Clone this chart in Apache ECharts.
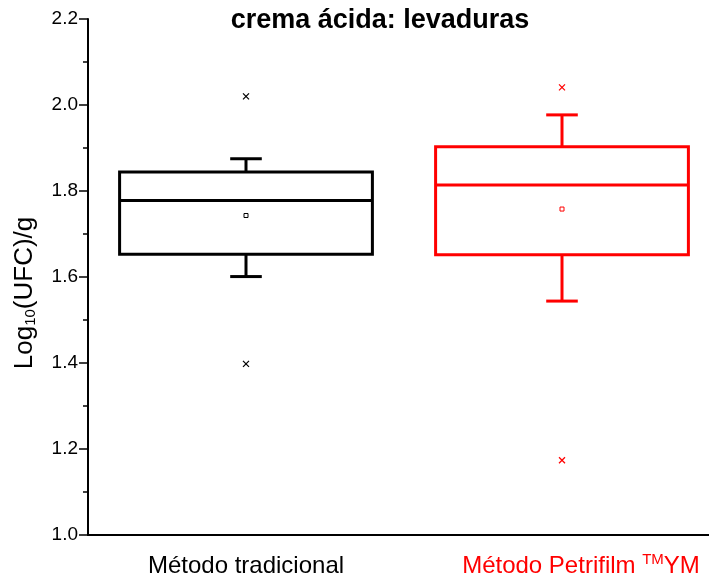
<!DOCTYPE html>
<html>
<head>
<meta charset="utf-8">
<title>crema ácida: levaduras</title>
<script src="https://cdn.jsdelivr.net/npm/echarts@6/dist/echarts.min.js"></script>
<style>
  html, body { margin: 0; padding: 0; background: #fff; }
  #chart { width: 709px; height: 579px; }
</style>
</head>
<body>
<div id="chart"></div>
<script>
// Log10(UFC)/g counts of yeasts in sour cream, two counting methods
const categories = ['Método tradicional', 'Método Petrifilm TMYM'];
const whiskerLow  = [1.601, 1.544];
const quartile1   = [1.653, 1.652];
const medians     = [1.778, 1.814];
const quartile3   = [1.844, 1.903];
const whiskerHigh = [1.875, 1.977];
const means       = [1.743, 1.758];
const outlierHigh = [2.020, 2.041];
const outlierLow  = [1.398, 1.174];

const yMin = 1.0, yMax = 2.2, yStep = 0.2;

const groupColors = ['#000000', '#ff0000'];
const FONT = '"Liberation Sans", Arial, sans-serif';

const boxData = categories.map((c, i) =>
  [i, whiskerLow[i], quartile1[i], medians[i], quartile3[i], whiskerHigh[i]]);
const meanData = categories.map((c, i) => [i, means[i]]);
const outlierData = [];
categories.forEach((c, i) => {
  outlierData.push([i, outlierHigh[i]]);
  outlierData.push([i, outlierLow[i]]);
});

function renderBox(params, api) {
  const i = api.value(0);
  const color = groupColors[i];
  const band = api.size([1, 0])[0];
  const halfBox = band * 0.4;
  const halfCap = band * 0.05;
  const pLo = api.coord([i, api.value(1)]);
  const pQ1 = api.coord([i, api.value(2)]);
  const pMed = api.coord([i, api.value(3)]);
  const pQ3 = api.coord([i, api.value(4)]);
  const pHi = api.coord([i, api.value(5)]);
  const x = pQ1[0];
  const st = { stroke: color, lineWidth: 3, fill: null, lineJoin: 'miter' };
  return {
    type: 'group',
    children: [
      { type: 'line', shape: { x1: x, y1: pQ3[1], x2: x, y2: pHi[1] }, style: st },
      { type: 'line', shape: { x1: x - halfCap, y1: pHi[1], x2: x + halfCap, y2: pHi[1] }, style: st },
      { type: 'line', shape: { x1: x, y1: pQ1[1], x2: x, y2: pLo[1] }, style: st },
      { type: 'line', shape: { x1: x - halfCap, y1: pLo[1], x2: x + halfCap, y2: pLo[1] }, style: st },
      { type: 'rect', shape: { x: x - halfBox, y: pQ3[1], width: 2 * halfBox, height: pQ1[1] - pQ3[1] },
        style: { stroke: color, lineWidth: 3, fill: '#fff', lineJoin: 'miter' } },
      { type: 'line', shape: { x1: x - halfBox, y1: pMed[1], x2: x + halfBox, y2: pMed[1] }, style: st }
    ]
  };
}

function renderMean(params, api) {
  const i = api.value(0);
  const p = api.coord([i, api.value(1)]);
  return {
    type: 'rect',
    shape: { x: p[0] - 2, y: p[1] - 2, width: 4, height: 4 },
    style: { stroke: groupColors[i], lineWidth: 1, fill: '#fff' }
  };
}

function renderOutlier(params, api) {
  const i = api.value(0);
  const p = api.coord([i, api.value(1)]);
  const s = 3;
  const st = { stroke: groupColors[i], lineWidth: 1.3 };
  return {
    type: 'group',
    children: [
      { type: 'line', shape: { x1: p[0] - s, y1: p[1] - s, x2: p[0] + s, y2: p[1] + s }, style: st },
      { type: 'line', shape: { x1: p[0] - s, y1: p[1] + s, x2: p[0] + s, y2: p[1] - s }, style: st }
    ]
  };
}

const chart = echarts.init(document.getElementById('chart'), null, { renderer: 'canvas' });

chart.setOption({
  animation: false,
  backgroundColor: '#ffffff',
  title: {
    text: 'crema ácida: levaduras',
    left: 380,
    top: 7,
    textAlign: 'center',
    padding: 0,
    textStyle: { fontFamily: FONT, fontSize: 27, fontWeight: 'bold', color: '#000' }
  },
  grid: { left: 88, top: 19, width: 632, height: 516, containLabel: false, outerBoundsMode: 'none' },
  xAxis: {
    type: 'category',
    data: categories,
    boundaryGap: true,
    axisLine: { lineStyle: { color: '#000', width: 2 } },
    axisTick: { alignWithLabel: true, length: 10, lineStyle: { color: '#000', width: 1.2 } },
    splitLine: { show: false },
    axisLabel: {
      margin: 17,
      interval: 0,
      formatter: function (value) {
        if (value.indexOf('TM') >= 0) {
          const parts = value.split('TM');
          return '{redFirst|' + parts[0] + '}{sup|TM}{red|' + parts[1] + '}';
        }
        return '{blk|' + value + '}';
      },
      rich: {
        blk: { fontFamily: FONT, fontSize: 24, color: '#000', lineHeight: 28 },
        redFirst: { fontFamily: FONT, fontSize: 24, color: '#ff0000', lineHeight: 28, padding: [0, 0, 0, 38] },
        red: { fontFamily: FONT, fontSize: 24, color: '#ff0000', lineHeight: 28 },
        sup: { fontFamily: FONT, fontSize: 15, color: '#ff0000', lineHeight: 28, verticalAlign: 'top' }
      }
    }
  },
  yAxis: {
    type: 'value',
    min: yMin,
    max: yMax,
    interval: yStep,
    name: 'Log{sub|10}(UFC)/g',
    nameLocation: 'middle',
    nameGap: 50,
    nameRotate: 90,
    nameTextStyle: {
      fontFamily: FONT, fontSize: 26, color: '#000',
      padding: [0, 32, 0, 0],
      rich: {
        sub: { fontFamily: FONT, fontSize: 15, color: '#000', verticalAlign: 'bottom', lineHeight: 26 }
      }
    },
    axisLine: { show: true, lineStyle: { color: '#000', width: 2 } },
    axisTick: { show: true, length: 9, lineStyle: { color: '#000', width: 1.5 } },
    minorTick: { show: true, splitNumber: 2, length: 5, lineStyle: { color: '#000', width: 1.5 } },
    splitLine: { show: false },
    axisLabel: {
      margin: 10,
      fontFamily: FONT, fontSize: 19, color: '#000',
      formatter: v => v.toFixed(1)
    }
  },
  series: [
    {
      type: 'custom',
      name: 'box',
      renderItem: renderBox,
      data: boxData,
      encode: { x: 0, y: [1, 2, 3, 4, 5] },
      z: 2
    },
    {
      type: 'custom',
      name: 'mean',
      renderItem: renderMean,
      data: meanData,
      encode: { x: 0, y: 1 },
      z: 3
    },
    {
      type: 'custom',
      name: 'outliers',
      renderItem: renderOutlier,
      data: outlierData,
      encode: { x: 0, y: 1 },
      z: 3
    }
  ]
});
</script>
</body>
</html>
